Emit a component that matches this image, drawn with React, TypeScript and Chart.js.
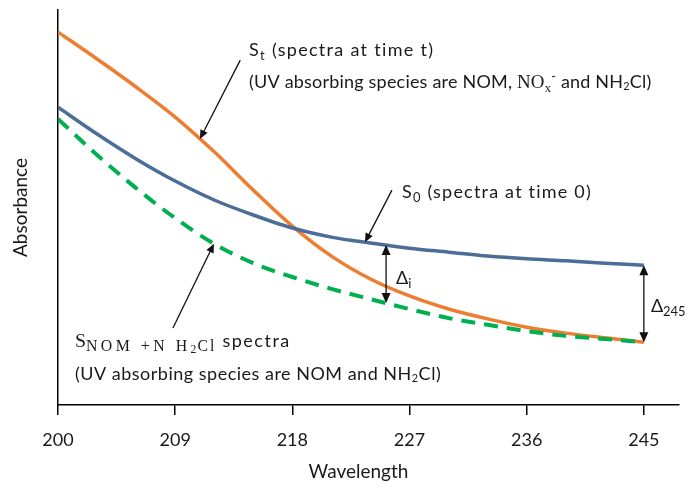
import React, { useEffect, useRef } from 'react';
import { Chart, registerables } from 'chart.js';

Chart.register(...registerables);

// ---- data ----
const wavelengths = [200, 203, 206, 209, 212, 215, 218, 221, 224, 227, 230, 233, 236, 239, 242, 245];
const spectraT = [0.944, 0.876, 0.805, 0.729, 0.641, 0.544, 0.453, 0.377, 0.319, 0.276, 0.243, 0.218, 0.197, 0.182, 0.170, 0.159];
const spectra0 = [0.754, 0.686, 0.623, 0.567, 0.519, 0.481, 0.448, 0.425, 0.410, 0.397, 0.387, 0.377, 0.370, 0.365, 0.359, 0.354];
const spectraNOM = [0.724, 0.633, 0.549, 0.473, 0.408, 0.359, 0.324, 0.294, 0.268, 0.243, 0.220, 0.203, 0.187, 0.175, 0.167, 0.159];
const xTicks = [200, 209, 218, 227, 236, 245];
const xTitle = 'Wavelength';
const yTitle = 'Absorbance';

const SANS = 'Lato, "Open Sans", sans-serif';
const SERIF = '"Liberation Serif", "DejaVu Serif", serif';
const TEXT = '#1a1a1a';

type Seg = { t: string; s?: number; dy?: number; serif?: boolean; ls?: number };

const seriesMap: Record<string, number[]> = { T: spectraT, Z: spectra0, N: spectraNOM };

function valueAt(series: number[], w: number) {
  for (let i = 0; i < wavelengths.length - 1; i++) {
    const a = wavelengths[i], b = wavelengths[i + 1];
    if (w >= a && w <= b) {
      const t = (w - a) / (b - a);
      return series[i] + t * (series[i + 1] - series[i]);
    }
  }
  return series[series.length - 1];
}

// pointer arrows: tail in data coords, tip on a series at a wavelength
const pointers = [
  { tail: [214.0, 0.873], tipW: 210.9, series: 'T' },
  { tail: [225.65, 0.544], tipW: 223.58, series: 'Z' },
  { tail: [208.83, 0.195], tipW: 211.98, series: 'N' },
];
// difference arrows between S0 and S NOM+NH2Cl
const deltas = [225.2, 245];

const labels: { at: [number, number]; size: number; ls: number; segs: Seg[] }[] = [
  { at: [214.67, 0.884], size: 18, ls: 1.3, segs: [{ t: 'S' }, { t: 't', s: 0.72, dy: 4 }, { t: ' (spectra at time t)' }] },
  {
    at: [214.67, 0.803], size: 18, ls: 0.2, segs: [
      { t: '(UV absorbing species are NOM, ' }, { t: 'NO', serif: true, s: 1.05 }, { t: 'x', serif: true, s: 0.7, dy: 4 },
      { t: '-', s: 0.7, dy: -7 }, { t: ' and NH' }, { t: '2', s: 0.6, dy: 2 }, { t: 'Cl)' },
    ],
  },
  { at: [226.42, 0.524], size: 18, ls: 1.2, segs: [{ t: 'S' }, { t: '0', s: 0.72, dy: 4 }, { t: ' (spectra at time 0)' }] },
  { at: [225.96, 0.306], size: 18, ls: 0, segs: [{ t: 'Δ' }, { t: 'i', s: 0.72, dy: 4 }] },
  { at: [245.54, 0.235], size: 18, ls: 0, segs: [{ t: 'Δ' }, { t: '245', s: 0.72, dy: 4 }] },
  {
    at: [201.3, 0.147], size: 18, ls: 0, segs: [
      { t: 'S', serif: true, s: 1.1 }, { t: 'NOM +N H', serif: true, s: 0.88, dy: 4, ls: 3.5 }, { t: '2', serif: true, s: 0.65, dy: 6, ls: 1 },
      { t: 'Cl', serif: true, s: 0.88, dy: 4, ls: 2 }, { t: ' spectra', ls: 1.5 },
    ],
  },
  { at: [201.3, 0.063], size: 18, ls: 0.5, segs: [{ t: '(UV absorbing species are NOM and NH' }, { t: '2', s: 0.6, dy: 2 }, { t: 'Cl)' }] },
];

function drawRich(ctx: any, x: number, y: number, size: number, ls: number, segs: Seg[]) {
  let cx = x;
  for (const sg of segs) {
    const sz = size * (sg.s ?? 1);
    ctx.font = `${sz}px ${sg.serif ? SERIF : SANS}`;
    ctx.letterSpacing = `${sg.ls ?? ls}px`;
    ctx.fillText(sg.t, cx, y + (sg.dy ?? 0));
    cx += ctx.measureText(sg.t).width;
  }
  ctx.letterSpacing = '0px';
}

function arrowHead(ctx: CanvasRenderingContext2D, x1: number, y1: number, x2: number, y2: number, len = 9, half = 4) {
  const a = Math.atan2(y2 - y1, x2 - x1);
  ctx.beginPath();
  ctx.moveTo(x2, y2);
  ctx.lineTo(x2 - len * Math.cos(a) + half * Math.sin(a), y2 - len * Math.sin(a) - half * Math.cos(a));
  ctx.lineTo(x2 - len * Math.cos(a) - half * Math.sin(a), y2 - len * Math.sin(a) + half * Math.cos(a));
  ctx.closePath();
  ctx.fill();
}

const annotationPlugin = {
  id: 'annotations',
  afterDraw(chart: any) {
    const ctx: CanvasRenderingContext2D = chart.ctx;
    const xs = chart.scales.x, ys = chart.scales.y;
    const px = (w: number) => xs.getPixelForValue(w);
    const py = (v: number) => ys.getPixelForValue(v);
    ctx.save();
    ctx.strokeStyle = '#111';
    ctx.fillStyle = '#111';
    ctx.lineWidth = 1.3;
    for (const p of pointers) {
      const x1 = px(p.tail[0]), y1 = py(p.tail[1]);
      const x2 = px(p.tipW), y2 = py(valueAt(seriesMap[p.series], p.tipW));
      const a = Math.atan2(y2 - y1, x2 - x1);
      ctx.beginPath();
      ctx.moveTo(x1, y1);
      ctx.lineTo(x2 - 6 * Math.cos(a), y2 - 6 * Math.sin(a));
      ctx.stroke();
      arrowHead(ctx, x1, y1, x2, y2);
    }
    for (const w of deltas) {
      const x = px(w);
      const yTop = py(valueAt(spectra0, w)), yBot = py(valueAt(spectraNOM, w));
      ctx.beginPath();
      ctx.moveTo(x, yTop + 6);
      ctx.lineTo(x, yBot - 6);
      ctx.stroke();
      arrowHead(ctx, x, yBot, x, yTop, 10, 4.5);
      arrowHead(ctx, x, yTop, x, yBot, 10, 4.5);
    }
    ctx.fillStyle = TEXT;
    ctx.textBaseline = 'alphabetic';
    ctx.textAlign = 'left';
    for (const l of labels) drawRich(ctx, px(l.at[0]), py(l.at[1]), l.size, l.ls, l.segs);

    // axis titles
    ctx.font = `19px ${SANS}`;
    ctx.textAlign = 'center';
    ctx.textBaseline = 'middle';
    ctx.fillText(xTitle, (xs.left + xs.right) / 2 - 10, 472);
    ctx.translate(21, (ys.top + ys.bottom) / 2);
    ctx.rotate(-Math.PI / 2);
    ctx.fillText(yTitle, 0, 0);
    ctx.restore();
  },
};

export default function App() {
  const ref = useRef<HTMLCanvasElement>(null);
  useEffect(() => {
    const mk = (arr: number[]) => wavelengths.map((w, i) => ({ x: w, y: arr[i] }));
    const chart = new Chart(ref.current!, {
      type: 'line',
      data: {
        datasets: [
          { label: 'S NOM+NH2Cl', data: mk(spectraNOM), borderColor: '#00B050', borderWidth: 4, borderDash: [14, 9], pointRadius: 0, cubicInterpolationMode: 'monotone', fill: false },
          { label: 'S0', data: mk(spectra0), borderColor: '#4B6D97', borderWidth: 3.5, pointRadius: 0, cubicInterpolationMode: 'monotone', fill: false },
          { label: 'St', data: mk(spectraT), borderColor: '#ED7D31', borderWidth: 3.5, pointRadius: 0, cubicInterpolationMode: 'monotone', fill: false },
        ],
      },
      options: {
        animation: false,
        responsive: false,
        layout: { padding: { top: 10, right: 10, left: 0, bottom: 0 } },
        plugins: { legend: { display: false }, tooltip: { enabled: false } },
        scales: {
          x: {
            type: 'linear',
            min: 200,
            max: 247.7,
            afterBuildTicks: (s: any) => { s.ticks = xTicks.map((v) => ({ value: v })); },
            afterFit: (s: any) => { s.height = 94; },
            ticks: { color: TEXT, font: { family: SANS, size: 18 }, padding: 14, maxRotation: 0, autoSkip: false, callback: (v: any) => String(v) },
            grid: { display: true, drawOnChartArea: false, drawTicks: true, tickLength: 10, color: '#000', lineWidth: 1.5 },
            border: { display: true, color: '#000', width: 1.5 },
          },
          y: {
            min: 0,
            max: 1,
            afterFit: (s: any) => { s.width = 58; },
            ticks: { display: false },
            grid: { display: false },
            border: { display: true, color: '#000', width: 1.5 },
          },
        },
      },
      plugins: [annotationPlugin],
    } as any);
    return () => chart.destroy();
  }, []);
  return (
    <div style={{ position: 'absolute', left: 0, top: 0, width: 689, height: 499, background: '#fff' }}>
      <canvas ref={ref} width={689} height={499} style={{ display: 'block' }} />
    </div>
  );
}
